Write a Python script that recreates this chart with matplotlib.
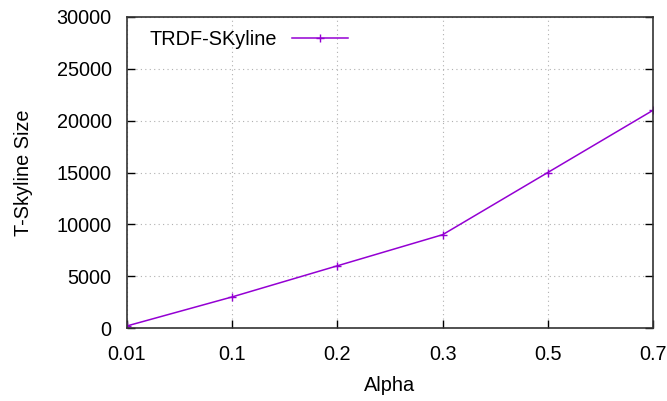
import matplotlib
matplotlib.use("Agg")
import matplotlib.pyplot as plt

alphas = ["0.01", "0.1", "0.2", "0.3", "0.5", "0.7"]
tskyline = [200, 3000, 6000, 9000, 15000, 21000]
yticks = [0, 5000, 10000, 15000, 20000, 25000, 30000]

plt.rcParams['font.family'] = ['Liberation Sans', 'DejaVu Sans']
fig = plt.figure(figsize=(6.67, 4.01), dpi=100)
ax = fig.add_axes([127/667, 1-328/401, (653-127)/667, (328-17)/401])

fs = 14.3
x = list(range(len(alphas)))
ax.plot(x, tskyline, color='#9400D3', lw=1.1, marker='+', ms=6, mew=1.0,
        label='TRDF-SKyline')
ax.set_xlim(0, len(alphas)-1)
ax.set_ylim(0, 30000)
ax.set_xticks(x)
ax.set_xticklabels(alphas)
ax.set_yticks(yticks)
ax.tick_params(direction='in', length=6, width=1, labelsize=fs, top=False, right=True)
ax.tick_params(axis='x', pad=12)
ax.tick_params(axis='y', pad=11)
ax.grid(True, linestyle=(0, (1, 3)), color='#b0b0b0', lw=0.8)
for s in ax.spines.values():
    s.set_linewidth(1.2)
    s.set_color('#333333')
ax.set_xlabel('Alpha', fontsize=fs, labelpad=9)
ax.set_ylabel('T-Skyline Size', fontsize=fs, labelpad=17)
ax.legend(loc='upper left', frameon=False, markerfirst=False, fontsize=fs,
          handlelength=2.85, handletextpad=0.75, bbox_to_anchor=(0.014, 1.005),
          borderaxespad=0.25, borderpad=0.5)
fig.savefig('out.png', dpi=100)
